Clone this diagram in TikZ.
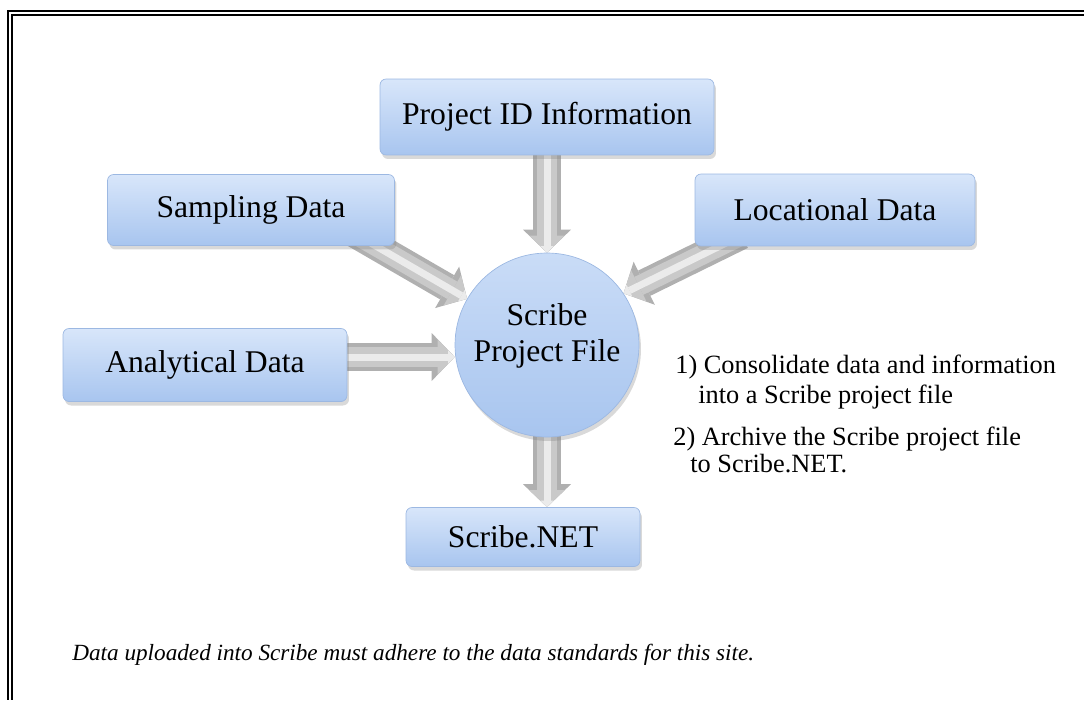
\documentclass[tikz,border=0pt]{standalone}
\usepackage{fontspec}
\setmainfont{Liberation Serif}
\usetikzlibrary{positioning,arrows.meta,shadows,backgrounds}
\definecolor{boxtop}{HTML}{D8E6FA}
\definecolor{boxbottom}{HTML}{A8C5EF}
\definecolor{boxrim}{HTML}{9CB8E2}
\begin{document}
\begin{tikzpicture}[
    x=0.02cm, y=-0.02cm, % one unit per pixel, y pointing down
    font=\fontsize{18}{20}\selectfont,
    databox/.style = {rectangle, rounded corners=0.12cm, draw=boxrim, top color=boxtop, bottom color=boxbottom,
                      drop shadow={opacity=0.3, shadow xshift=0.04cm, shadow yshift=-0.08cm}},
    hub/.style = {circle, draw=boxrim, top color=boxtop!70!boxbottom, bottom color=boxbottom, minimum size=3.68cm,
                  align=center, text depth=0.5cm, drop shadow={opacity=0.3, shadow xshift=0.04cm, shadow yshift=-0.08cm}},
    flow/.style = {line width=0.56cm, draw=gray!62, -{Triangle[width=0.96cm,length=0.46cm,line width=0pt]},
                   postaction={draw=gray!42, line width=0.4cm, -{Triangle[width=0.7cm,length=0.34cm,line width=0pt]}},
                   postaction={draw=gray!16, line width=0.14cm, -{Triangle[width=0.26cm,length=0.13cm,line width=0pt]}}}
    ]
    \tikzstyle{steptext} = [anchor=base west, inner sep=0pt, font=\fontsize{15}{17}\selectfont]
    \tikzstyle{notetext} = [anchor=base west, inner sep=0pt, font=\fontsize{13.2}{15}\selectfont\itshape]
    \useasboundingbox (0,0) rectangle (1084,700);
    \draw[line width=0.046cm] (1084,11.2) -- (8,11.2) -- (8,700);
    \draw[line width=0.046cm] (1084,15.2) -- (12.2,15.2) -- (12.2,700);

    \node[databox, minimum width=6.68cm, minimum height=1.52cm] (pid) at (547,117) {Project ID Information};
    \node[databox, minimum width=5.74cm, minimum height=1.42cm] (samp) at (251,210) {Sampling Data};
    \node[databox, minimum width=5.6cm, minimum height=1.44cm] (loc) at (835,210) {Locational Data};
    \node[databox, minimum width=5.68cm, minimum height=1.46cm] (anal) at (205,365) {Analytical Data};
    \node[hub] (scribe) at (547,345) {Scribe\\Project File};
    \node[databox, minimum width=4.68cm, minimum height=1.18cm] (net) at (523,537) {Scribe.NET};

    \begin{scope}[on background layer]
    \draw[flow] ([shift={(0,-6)}]pid.south) -- (scribe.north);
    \draw[flow] ([shift={(-40,-12)}]samp.south east) -- (scribe.150);
    \draw[flow] ([shift={(47,-11)}]loc.south west) -- (scribe.34);
    \draw[flow] ([shift={(-6,-8)}]anal.east) -- ([shift={(0,-8)}]anal.east -| scribe.west);
    \draw[flow] ([shift={(0,-4)}]scribe.south) -- (scribe.south |- net.north);
    \end{scope}

    \node[steptext] (s1a) at (675,373) {1) Consolidate data and information};
    \node[steptext] (s1b) at (698,403) {into a Scribe project file};
    \node[steptext] (s2a) at (673,445) {2) Archive the Scribe project file};
    \node[steptext] (s2b) at (690,472) {to Scribe.NET.};

    \node[notetext] (remark) at (72,660) {Data uploaded into Scribe must adhere to the data standards for this site.};
\end{tikzpicture}
\end{document}
